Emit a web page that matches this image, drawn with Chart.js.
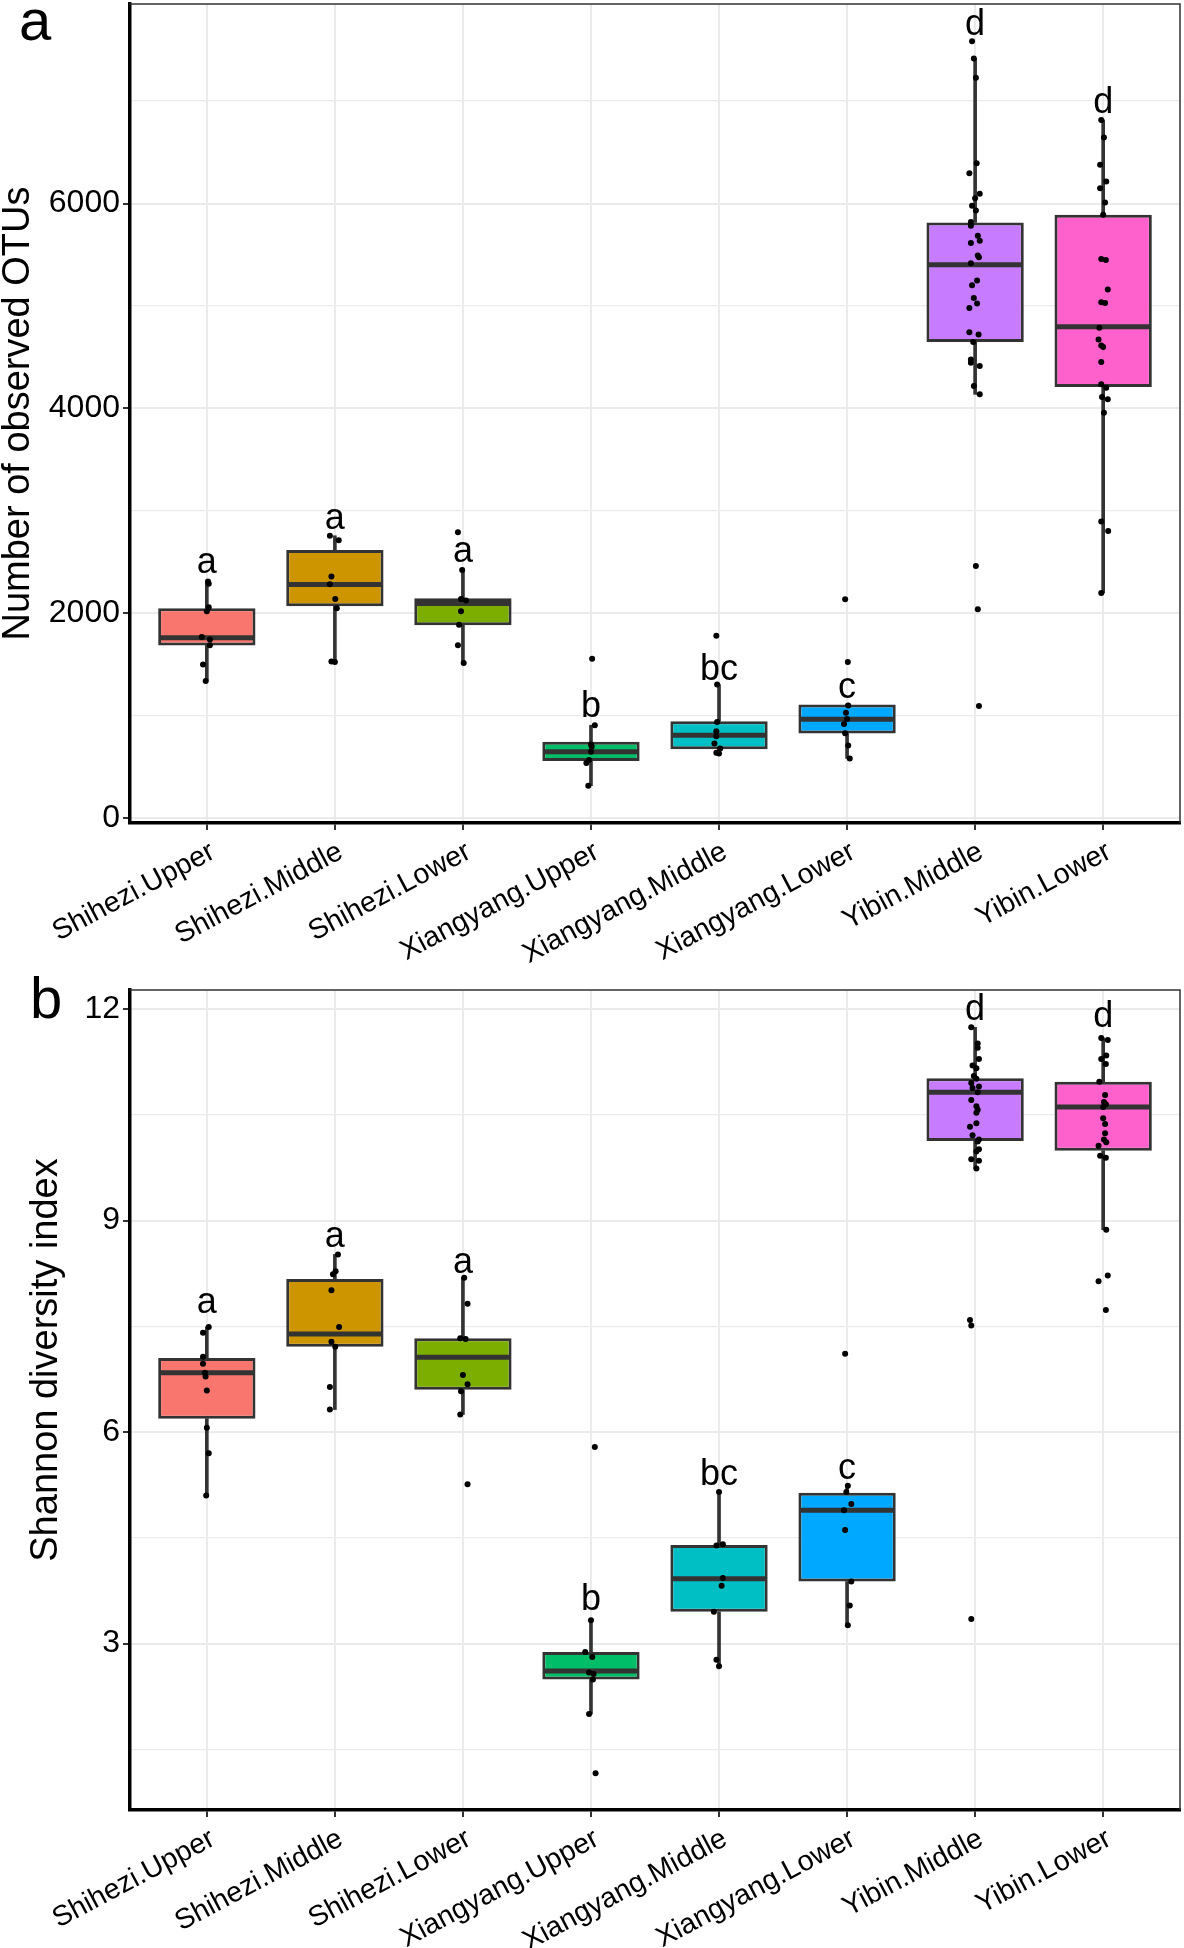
<!DOCTYPE html>
<html>
<head>
<meta charset="utf-8">
<script src="https://cdn.jsdelivr.net/npm/chart.js@4.4.0/dist/chart.umd.min.js"></script>
<style>
  html, body { margin: 0; padding: 0; background: #fff; }
  #panelA { position: absolute; left: 0; top: 0; width: 1184px; height: 965px; }
  #panelB { position: absolute; left: 0; top: 965px; width: 1184px; height: 983px; }
</style>
</head>
<body>
<div id="panelA"><canvas id="otuChart"></canvas></div>
<div id="panelB"><canvas id="shannonChart"></canvas></div>
<script>
// groups and fill colours
const groups = ["Shihezi.Upper", "Shihezi.Middle", "Shihezi.Lower", "Xiangyang.Upper",
                "Xiangyang.Middle", "Xiangyang.Lower", "Yibin.Middle", "Yibin.Lower"];
const boxColors = ["#F8766D", "#CD9600", "#7CAE00", "#00BE67", "#00BFC4", "#00A9FF", "#C77CFF", "#FF61CC"];

// panel a: number of observed OTUs
const otuLow    = [1340, 1525, 1515, 318, 633, 584, 4138, 2200];
const otuQ1     = [1687, 2070, 1885, 558, 675, 827, 4648, 4209];
const otuMedian = [1762, 2281, 2096, 649, 811, 967, 5404, 4797];
const otuQ3     = [2051, 2619, 2148, 746, 948, 1110, 5816, 5891];
const otuHigh   = [2311, 2758, 2424, 908, 1305, 1115, 7416, 6816];
const otuLetters = ["a", "a", "a", "b", "bc", "c", "d", "d"];
const otuLetterY = [2390, 2826, 2499, 989, 1353, 1174, 7644, 6880];
const otuMajorTicks = [0, 2000, 4000, 6000];
const otuMinorTicks = [1000, 3000, 5000, 7000];
const otuPoints = [
  [2311, 2290, 2060, 2020, 1770, 1745, 1690, 1500, 1340],
  [2758, 2715, 2360, 2285, 2140, 2050, 1530, 1525],
  [2791, 2424, 2140, 2125, 2020, 1890, 1690, 1515],
  [1558, 908, 720, 700, 650, 570, 540, 318],
  [1782, 1305, 940, 850, 800, 730, 680, 640, 633],
  [2139, 1525, 1100, 1030, 970, 920, 830, 710, 584],
  [7585, 7416, 7228, 6394, 6296, 6095, 6053, 5978, 5933, 5819, 5784, 5686, 5638, 5615, 5492, 5475, 5417,
   5248, 5203, 5079, 5024, 4981, 4745, 4722, 4648, 4479, 4446, 4414, 4219, 4138, 2463, 2041, 1097],
  [6816, 6645, 6378, 6215, 6150, 6011, 5891, 5459, 5449, 5161, 5037, 5030, 4787, 4674, 4615, 4600, 4453,
   4236, 4203, 4112, 4090, 3959, 2898, 2804, 2200]
];
const otuJitter = [
  [0.009, 0.015, 0.015, 0, -0.039, 0.024, 0.024, -0.03, -0.009],
  [-0.039, 0.03, -0.027, -0.039, 0.003, 0.015, -0.027, 0],
  [-0.039, -0.006, -0.015, 0.024, -0.015, -0.03, -0.039, 0.006],
  [0.009, 0.03, 0, 0.006, 0, -0.015, -0.036, -0.021],
  [-0.021, -0.015, -0.015, -0.021, -0.021, -0.036, 0.009, -0.021, 0],
  [-0.015, 0.006, 0.009, -0.009, 0, -0.024, -0.015, 0.009, 0.021],
  [-0.024, -0.01, 0.006, 0.012, -0.045, 0.036, 0, -0.024, 0.006, -0.033, -0.033, 0.021, 0.036, -0.033, 0.021, 0.03, -0.033,
   0.015, -0.024, -0.01, 0.015, -0.045, -0.045, 0.027, -0.015, -0.033, -0.033, 0.036, -0.01, 0.036, 0.006, 0.021, 0.03],
  [-0.015, 0.006, -0.024, 0.024, -0.024, 0.015, 0, -0.015, 0.021, 0.036, -0.015, 0.015, -0.03, -0.036, -0.015, 0, -0.015,
   -0.015, 0.024, -0.009, 0.036, 0.006, -0.015, 0.039, -0.015]
];

// panel b: Shannon diversity index
const shLow    = [5.10, 6.32, 6.25, 2.00, 2.68, 3.26, 9.74, 8.87];
const shQ1     = [6.19, 7.21, 6.60, 2.49, 3.45, 3.88, 10.13, 9.99];
const shMedian = [6.84, 7.39, 7.06, 2.61, 3.92, 4.89, 10.82, 10.61];
const shQ3     = [7.05, 8.17, 7.33, 2.88, 4.40, 5.14, 11.02, 10.97];
const shHigh   = [7.49, 8.52, 8.19, 3.33, 5.15, 5.24, 11.74, 11.59];
const shLetters = ["a", "a", "a", "b", "bc", "c", "d", "d"];
const shLetterY = [7.69, 8.62, 8.26, 3.48, 5.25, 5.33, 11.85, 11.74];
const shMajorTicks = [3, 6, 9, 12];
const shMinorTicks = [1.5, 4.5, 7.5, 10.5];
const shPoints = [
  [7.49, 7.41, 7.07, 6.97, 6.84, 6.79, 6.59, 6.06, 5.70, 5.10],
  [8.52, 8.28, 8.24, 8.01, 7.49, 7.28, 7.21, 6.64, 6.32],
  [8.19, 7.82, 7.33, 7.32, 6.81, 6.68, 6.58, 6.25, 5.26],
  [5.79, 3.33, 2.88, 2.81, 2.59, 2.57, 2.49, 2.00, 1.16],
  [5.15, 4.41, 4.39, 3.93, 3.82, 3.45, 2.77, 2.68],
  [7.11, 5.24, 5.15, 4.98, 4.89, 4.61, 3.88, 3.54, 3.26],
  [11.74, 11.51, 11.45, 11.29, 11.20, 11.16, 11.05, 11.01, 10.95, 10.90, 10.88, 10.82, 10.71, 10.62, 10.57,
   10.53, 10.38, 10.33, 10.21, 10.15, 10.12, 10.01, 9.98, 9.87, 9.85, 9.74, 7.59, 7.51, 3.35],
  [11.59, 11.56, 11.34, 11.29, 11.22, 10.97, 10.78, 10.68, 10.65, 10.61, 10.45, 10.37, 10.24, 10.15, 10.11,
   10.06, 9.92, 9.89, 8.87, 8.22, 8.14, 7.73]
];
const shJitter = [
  [0.015, -0.03, -0.03, -0.03, -0.015, -0.01, 0, 0, 0.015, -0.005],
  [0.024, 0.006, -0.015, -0.027, 0.033, -0.027, 0.003, -0.039, -0.039],
  [0.01, 0.036, -0.021, 0.021, 0, 0.036, -0.015, -0.021, 0.036],
  [0.03, 0, -0.045, 0.01, -0.015, 0.02, 0.015, -0.015, 0.036],
  [0, 0.03, -0.02, 0.03, 0.02, -0.04, -0.02, 0],
  [-0.015, 0.006, -0.006, 0.033, -0.024, -0.015, 0.033, 0.021, 0.006],
  [-0.03, 0.02, 0.02, 0.03, -0.02, 0.01, -0.01, 0.01, -0.03, 0.03, -0.02, 0.02, -0.03, 0.01, 0.02,
   0.01, 0.01, -0.04, -0.02, 0.03, 0.02, 0.03, 0.01, -0.03, 0.03, 0.01, -0.04, -0.03, -0.03],
  [-0.015, 0.036, 0.024, -0.015, 0.021, -0.03, 0.015, 0.006, 0.021, 0, 0, 0.015, 0.015, 0.006, 0.024,
   -0.036, -0.024, 0.021, 0.024, 0.036, -0.036, 0.021]
];

const fontFamily = "'Liberation Sans', Arial, Helvetica, sans-serif";
Chart.defaults.font.family = fontFamily;
Chart.defaults.color = "#000";

function buildBoxChart(canvasId, cfg) {
    const boxes = groups.map((g, i) => ({ x: i, y: [cfg.q1[i], cfg.q3[i]] }));
    const lowerWhiskers = groups.map((g, i) => ({ x: i, y: [cfg.low[i], cfg.q1[i]] }));
    const upperWhiskers = groups.map((g, i) => ({ x: i, y: [cfg.q3[i], cfg.high[i]] }));
    const medians = groups.map((g, i) => ({ x: i, y: cfg.median[i] }));
    const dots = [];
    cfg.points.forEach((list, i) => {
        list.forEach((v, k) => dots.push({ x: i + cfg.jitter[i][k], y: v }));
    });
    const yTicks = cfg.major.concat(cfg.minor).sort((a, b) => a - b);

    // median segment spans the box width
    const halfBox = (ctx) => {
        const x = ctx.chart.scales.x;
        return 0.365 * (x.getPixelForValue(1) - x.getPixelForValue(0));
    };

    const overlay = {
        id: "overlay_" + canvasId,
        afterDatasetsDraw(chart) {
            const { ctx, chartArea, scales } = chart;
            ctx.save();
            // significance letters
            ctx.fillStyle = "#000";
            ctx.font = "36px " + fontFamily;
            ctx.textAlign = "center";
            ctx.textBaseline = "alphabetic";
            cfg.letters.forEach((t, i) => {
                ctx.fillText(t, scales.x.getPixelForValue(i), scales.y.getPixelForValue(cfg.letterY[i]));
            });
            // thin top / right frame
            ctx.strokeStyle = "#333";
            ctx.lineWidth = 1.5;
            ctx.beginPath();
            ctx.moveTo(chartArea.left, chartArea.top);
            ctx.lineTo(chartArea.right, chartArea.top);
            ctx.lineTo(chartArea.right, chartArea.bottom);
            ctx.stroke();
            // panel letter
            ctx.font = "58px " + fontFamily;
            ctx.textAlign = "left";
            ctx.fillText(cfg.panel, cfg.panelX, cfg.panelY);
            // y axis title
            ctx.font = "38px " + fontFamily;
            ctx.textAlign = "center";
            ctx.textBaseline = "middle";
            ctx.translate(cfg.titleX, (chartArea.top + chartArea.bottom) / 2 + cfg.titleShift);
            ctx.rotate(-Math.PI / 2);
            ctx.fillText(cfg.yTitle, 0, 0);
            ctx.restore();
        }
    };

    return new Chart(document.getElementById(canvasId), {
        type: "bar",
        data: {
            datasets: [
                {
                    type: "scatter",
                    data: dots,
                    order: 0,
                    pointRadius: 3,
                    pointBackgroundColor: "#000",
                    pointBorderWidth: 0
                },
                {
                    type: "scatter",
                    data: medians,
                    order: 1,
                    pointStyle: "line",
                    pointRadius: halfBox,
                    pointBorderWidth: 5,
                    pointBorderColor: "#333333"
                },
                {
                    data: boxes,
                    order: 2,
                    grouped: false,
                    backgroundColor: boxColors,
                    borderColor: "#333333",
                    borderWidth: 3,
                    borderSkipped: false,
                    categoryPercentage: 1,
                    barPercentage: 0.76
                },
                {
                    data: lowerWhiskers,
                    order: 3,
                    grouped: false,
                    backgroundColor: "#333333",
                    barThickness: 3
                },
                {
                    data: upperWhiskers,
                    order: 3,
                    grouped: false,
                    backgroundColor: "#333333",
                    barThickness: 3
                }
            ]
        },
        options: {
            responsive: true,
            maintainAspectRatio: false,
            animation: false,
            events: [],
            layout: { padding: { top: cfg.padTop, right: 3, left: 0, bottom: 0 } },
            plugins: {
                legend: { display: false },
                tooltip: { enabled: false }
            },
            scales: {
                x: {
                    type: "linear",
                    min: -0.6,
                    max: 7.6,
                    offset: false,
                    afterBuildTicks: (s) => { s.ticks = groups.map((g, i) => ({ value: i })); },
                    afterFit: (s) => {
                        s.height = cfg.xAxisHeight;
                        s.paddingLeft = 0;
                        s.paddingRight = 0;
                    },
                    ticks: {
                        callback: (v) => groups[v],
                        autoSkip: false,
                        minRotation: 28,
                        maxRotation: 28,
                        padding: 5,
                        labelOffset: 6,
                        color: "#000",
                        font: { size: 28.5 }
                    },
                    grid: { offset: false, color: "#EBEBEB", lineWidth: 2, tickColor: "#333", tickLength: 7, tickWidth: 2 },
                    border: { display: true, color: "#000", width: 3.5 }
                },
                y: {
                    type: "linear",
                    min: cfg.yMin,
                    max: cfg.yMax,
                    afterBuildTicks: (s) => {
                        s.ticks = yTicks.map((v) => ({ value: v, major: cfg.major.includes(v) }));
                    },
                    afterFit: (s) => {
                        s.width = 130;
                        s.paddingTop = 0;
                        s.paddingBottom = 0;
                    },
                    ticks: {
                        callback: (v) => (cfg.major.includes(v) ? String(v) : ""),
                        padding: 3,
                        color: "#000",
                        font: { size: 32 }
                    },
                    grid: {
                        color: "#EBEBEB",
                        lineWidth: (c) => (c.tick && c.tick.major ? 2 : 1.3),
                        tickColor: (c) => (c.tick && c.tick.major ? "#333" : "rgba(0,0,0,0)"),
                        tickLength: 7,
                        tickWidth: 2
                    },
                    border: { display: true, color: "#000", width: 3.5 }
                }
            }
        },
        plugins: [overlay]
    });
}

document.addEventListener("DOMContentLoaded", () => {
    buildBoxChart("otuChart", {
        low: otuLow, q1: otuQ1, median: otuMedian, q3: otuQ3, high: otuHigh,
        points: otuPoints, jitter: otuJitter,
        letters: otuLetters, letterY: otuLetterY,
        major: otuMajorTicks, minor: otuMinorTicks,
        yMin: -46, yMax: 7948,
        yTitle: "Number of observed OTUs", titleX: 19, titleShift: 0,
        panel: "a", panelX: 19, panelY: 40,
        padTop: 3, xAxisHeight: 142
    });

    buildBoxChart("shannonChart", {
        low: shLow, q1: shQ1, median: shMedian, q3: shQ3, high: shHigh,
        points: shPoints, jitter: shJitter,
        letters: shLetters, letterY: shLetterY,
        major: shMajorTicks, minor: shMinorTicks,
        yMin: 0.64, yMax: 12.27,
        yTitle: "Shannon diversity index", titleX: 47, titleShift: -40,
        panel: "b", panelX: 30, panelY: 53,
        padTop: 25, xAxisHeight: 138
    });
});
</script>
</body>
</html>
